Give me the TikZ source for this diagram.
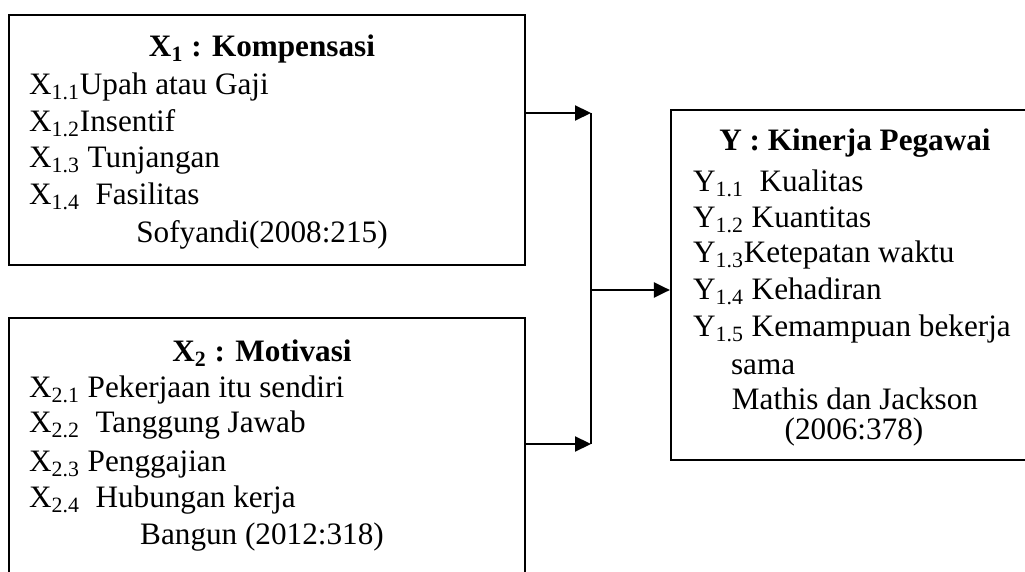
\documentclass[tikz,border=0pt]{standalone}
\usepackage{fontspec}
\setmainfont{Liberation Serif}
\usetikzlibrary{arrows.meta}
\begin{document}
\begin{tikzpicture}[x=0.5pt,y=-0.5pt,line width=1.1pt,
  box/.style={draw,rectangle,inner sep=0pt},
  lbl/.style={anchor=base west,inner sep=0pt,font=\fontsize{15.6}{18}\selectfont},
  mid/.style={anchor=base,inner sep=0pt,font=\fontsize{15.6}{18}\selectfont},
  ttl/.style={anchor=base,inner sep=0pt,font=\fontsize{15.6}{18}\selectfont\bfseries},
  arr/.style={-{Triangle[length=8pt,width=7.5pt]}}]
\path[use as bounding box,clip] (0,0) rectangle (1025,572);
% boxes
\node[box,minimum width=258pt,minimum height=125pt] (box1) at (267,140) {};
\node[box,minimum width=258pt,minimum height=146pt] (box2) at (267,464) {};
\node[box,minimum width=190pt,minimum height=175pt] (boxY) at (861,285) {};
% box 1 text
\node[ttl] (t1) at (262,57) {X\textsubscript{1} : Kompensasi};
\node[lbl] (a1) at (28,95) {X\textsubscript{1.1}Upah atau Gaji};
\node[lbl] (a2) at (28,132) {X\textsubscript{1.2}Insentif};
\node[lbl] (a3) at (28,168) {X\textsubscript{1.3} Tunjangan};
\node[lbl] (a4) at (28,205) {X\textsubscript{1.4}\ \ Fasilitas};
\node[mid] (s1) at (262,243) {Sofyandi(2008:215)};
% box 2 text
\node[ttl] (t2) at (262,362) {X\textsubscript{2} : Motivasi};
\node[lbl] (b1) at (28,398) {X\textsubscript{2.1} Pekerjaan itu sendiri};
\node[lbl] (b2) at (28,433) {X\textsubscript{2.2}\ \ Tanggung Jawab};
\node[lbl] (b3) at (28,472) {X\textsubscript{2.3} Penggajian};
\node[lbl] (b4) at (28,508) {X\textsubscript{2.4}\ \ Hubungan kerja};
\node[mid] (s2) at (262,545) {Bangun (2012:318)};
% box Y text
\node[ttl] (tY) at (855,151) {Y : Kinerja Pegawai};
\node[lbl] (y1) at (692,192) {Y\textsubscript{1.1}\ \ Kualitas};
\node[lbl] (y2) at (692,228) {Y\textsubscript{1.2} Kuantitas};
\node[lbl] (y3) at (692,263) {Y\textsubscript{1.3}Ketepatan waktu};
\node[lbl] (y4) at (692,300) {Y\textsubscript{1.4} Kehadiran};
\node[lbl] (y5) at (692,337) {Y\textsubscript{1.5} Kemampuan bekerja};
\node[lbl] (y6) at (730,375) {sama};
\node[mid] (sY1) at (855,410) {Mathis dan Jackson};
\node[mid] (sY2) at (854,440) {(2006:378)};
% connectors
\coordinate (j1) at (591,113);
\coordinate (j2) at (591,444);
\coordinate (jm) at (591,290);
\draw[arr] (box1.east |- j1) -- (j1);
\draw (j1) -- (j2);
\draw[arr] (box2.east |- j2) -- (j2);
\draw[arr] (jm) -- (jm -| boxY.west);
\end{tikzpicture}
\end{document}
